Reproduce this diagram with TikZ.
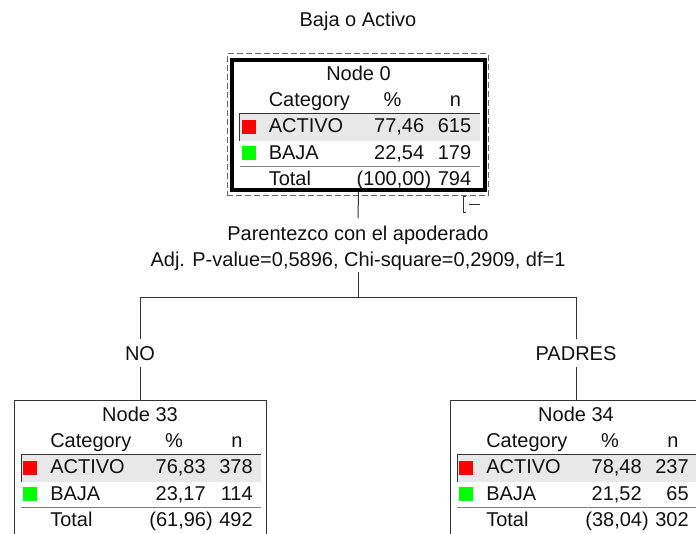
\documentclass[tikz,border=0pt]{standalone}
\usepackage{fontspec}
\setmainfont{Liberation Sans}
\usetikzlibrary{fit}

\definecolor{ink}{HTML}{111111}
\definecolor{rowgrey}{HTML}{E8E8E8}
\definecolor{rule}{HTML}{333333}
\definecolor{softrule}{HTML}{808080}
\definecolor{selgrey}{HTML}{666666}
\definecolor{catred}{HTML}{FF0000}
\definecolor{catgreen}{HTML}{00FF00}

\tikzset{
  txt/.style={inner sep=0pt, font=\fontsize{15}{18}\selectfont, text=ink},
  branchlbl/.style={txt, inner sep=5pt},
  conn/.style={draw=rule, line width=0.75pt},
  rowrule/.style={draw=rule, line width=0.75pt},
  totalrule/.style={draw=softrule, line width=0.75pt},
  thinframe/.style={draw=rule, line width=0.75pt, inner sep=0pt},
  rootframe/.style={draw=black, line width=3pt, inner sep=0pt},
  selframe/.style={draw=selgrey, line width=0.75pt, dash pattern=on 4.5pt off 2.25pt, inner sep=0pt},
}

% Category table of one tree node.
% #1 id, #2 centre x, #3 top y, #4/#5 ACTIVO % and n, #6/#7 BAJA % and n, #8/#9 total % and n
\newcommand{\cattable}[9]{%
  \pgfmathsetmacro{\gl}{#2-119}%
  \pgfmathsetmacro{\gr}{#2+121}%
  \pgfmathsetmacro{\yt}{#3}%
  \fill[rowgrey] (\gl,\yt+54) rectangle (\gr,\yt+81);
  \draw[rowrule] (\gl,\yt+81) -- (\gl,\yt+54) -- (\gr,\yt+54);
  \draw[totalrule] (\gl,\yt+106.5) -- (\gr,\yt+106.5);
  \fill[catred] (\gl+2,\yt+60) rectangle (\gl+16,\yt+74);
  \fill[catgreen] (\gl+2,\yt+86) rectangle (\gl+16,\yt+100);
  \node[txt, anchor=base] (title#1) at (#2,\yt+21) {Node #1};
  \node[txt, anchor=base west] (cat#1) at (\gl+29,\yt+47) {Category};
  \node[txt, anchor=base] (pct#1) at (\gl+153,\yt+47) {\%};
  \node[txt, anchor=base] (n#1) at (\gl+216,\yt+47) {n};
  \node[txt, anchor=base west] (la#1) at (\gl+29,\yt+73) {ACTIVO};
  \node[txt, anchor=base east] (pa#1) at (\gl+185,\yt+73) {#4};
  \node[txt, anchor=base east] (na#1) at (\gl+232,\yt+73) {#5};
  \node[txt, anchor=base west] (lb#1) at (\gl+29,\yt+99.5) {BAJA};
  \node[txt, anchor=base east] (pb#1) at (\gl+185,\yt+99.5) {#6};
  \node[txt, anchor=base east] (nb#1) at (\gl+232,\yt+99.5) {#7};
  \node[txt, anchor=base west] (lt#1) at (\gl+29,\yt+125.5) {Total};
  \node[txt, anchor=base east] (pt#1) at (\gl+192,\yt+125.5) {#8};
  \node[txt, anchor=base east] (nt#1) at (\gl+232,\yt+125.5) {#9};
}

\begin{document}
\begin{tikzpicture}[x=0.75pt, y=-0.75pt]
  \useasboundingbox (0,0) rectangle (696,533);
  \clip (0,0) rectangle (696,533);

  % dependent variable
  \node[txt, anchor=base] (depvar) at (358,26.7) {Baja o Activo};

  % root node
  \node[selframe, fit={(227,53.5) (488,195.5)}] (sel0) {};
  \node[rootframe, fit={(232,59.5) (485,190)}] (box0) {};
  \cattable{0}{358.5}{59.5}{77,46}{615}{22,54}{179}{(100,00)}{794}

  % collapse toggle
  \draw[rule, line width=0.75pt] (465.5,196) -- (463,196) -- (463,212) -- (465.5,212);
  \draw[rule, line width=0.75pt] (469,204) -- (480,204);

  % split description
  \node[txt, anchor=base] (split1) at (358,240.7) {Parentezco con el apoderado};
  \node[txt, anchor=base] (split2) at (358,266) {Adj. P-value=0,5896, Chi-square=0,2909, df=1};
  \coordinate (stop) at (358,218);
  \coordinate (sbot) at (358,272);
  \coordinate (jc) at (358,297);
  \coordinate (jl) at (140,297);
  \coordinate (jr) at (576,297);

  % branch labels
  \node[branchlbl, anchor=base] (bno) at (140,360) {NO};
  \node[branchlbl, anchor=base] (bpad) at (576,360) {PADRES};

  % child nodes
  \node[thinframe, fit={(14,400.7) (266,560)}] (box33) {};
  \cattable{33}{140}{400.7}{76,83}{378}{23,17}{114}{(61,96)}{492}
  \node[thinframe, fit={(450,400.7) (702,560)}] (box34) {};
  \cattable{34}{576}{400.7}{78,48}{237}{21,52}{65}{(38,04)}{302}

  % connectors
  \draw[conn] (box0.south) -- (stop);
  \draw[conn] (sbot) -- (jc);
  \draw[conn] (jl) -- (jr);
  \draw[conn] (jl) -- (bno.north);
  \draw[conn] (bno.south) -- (box33.north);
  \draw[conn] (jr) -- (bpad.north);
  \draw[conn] (bpad.south) -- (box34.north);
\end{tikzpicture}
\end{document}
